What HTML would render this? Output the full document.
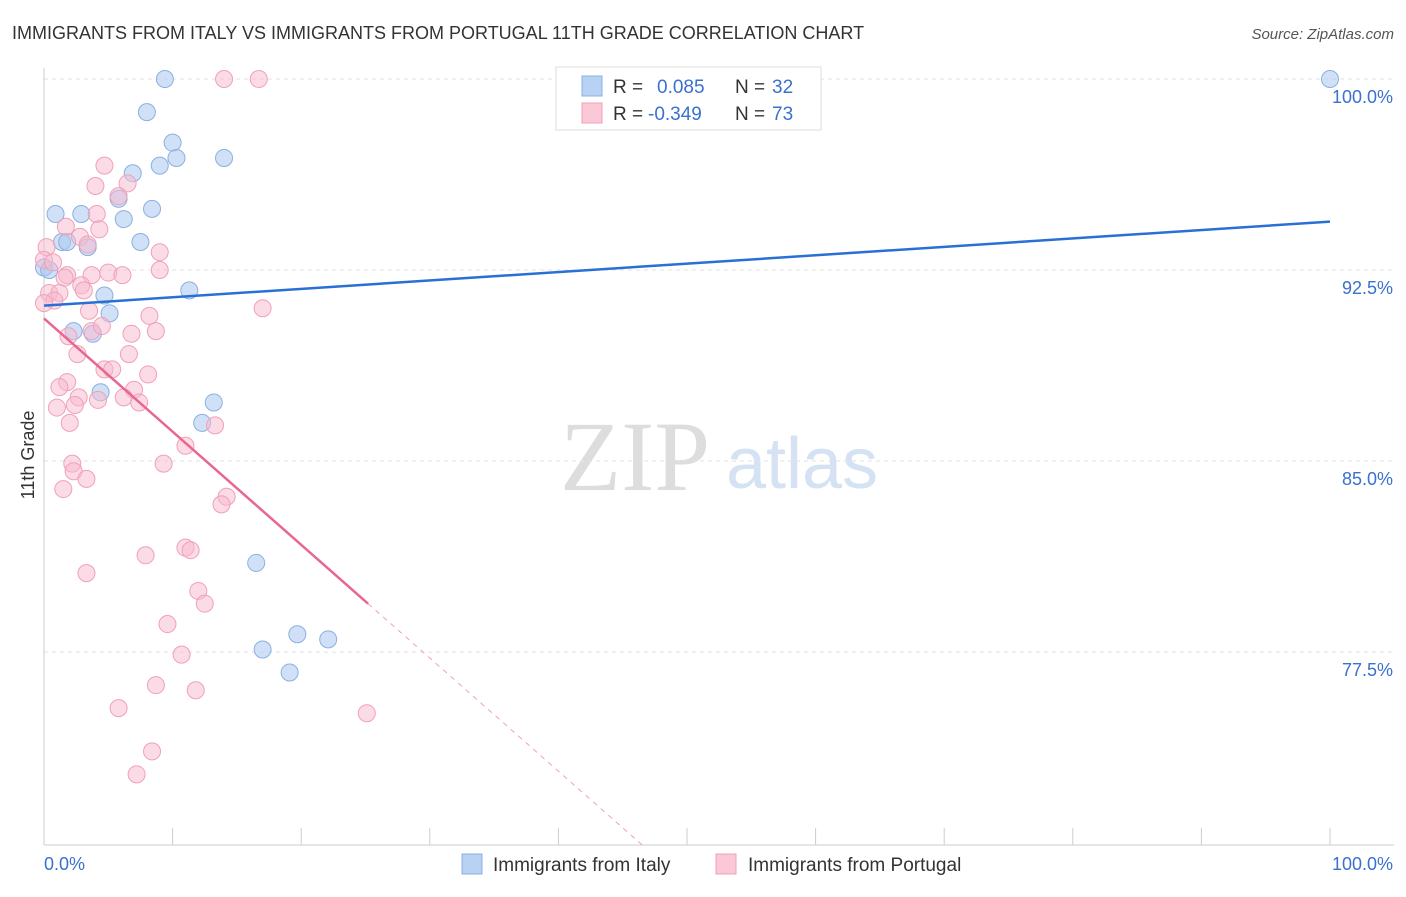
<!DOCTYPE html>
<html><head><meta charset="utf-8"><style>
body{margin:0;background:#fff;font-family:"Liberation Sans",sans-serif;}
svg text{font-family:"Liberation Sans",sans-serif;}
</style></head><body>
<svg id="chart" width="1406" height="892" xmlns="http://www.w3.org/2000/svg">
<text x="12" y="39" font-size="18" fill="#333">IMMIGRANTS FROM ITALY VS IMMIGRANTS FROM PORTUGAL 11TH GRADE CORRELATION CHART</text>
<text x="1394" y="39" font-size="15" fill="#555" font-style="italic" text-anchor="end">Source: ZipAtlas.com</text>
<g><text x="635" y="490" font-size="100" fill="#ddd" style="font-family:'Liberation Serif',serif" text-anchor="middle">ZIP</text><text x="802" y="488" font-size="72" fill="#d4e2f4" text-anchor="middle">atlas</text></g>
<g id="grid"></g><g id="axes"></g><g id="marks"></g>
<text transform="translate(34,455) rotate(-90)" font-size="18" fill="#333" text-anchor="middle">11th Grade</text>
<g>
<rect x="556" y="67" width="265" height="63" fill="#fff" stroke="#ddd"/>
<rect x="582" y="76" width="20" height="20" fill="#b8d2f4" stroke="#8ab0e0"/>
<rect x="582" y="103" width="20" height="20" fill="#fbc8d8" stroke="#f0a0b8"/>
<text x="613" y="93" font-size="19" fill="#333">R = </text><text x="657" y="93" font-size="19" fill="#3a70d0">0.085</text>
<text x="735" y="93" font-size="19" fill="#333">N = </text><text x="772" y="93" font-size="19" fill="#3a70d0">32</text>
<text x="613" y="120" font-size="19" fill="#333">R = </text><text x="648" y="120" font-size="19" fill="#3a70d0">-0.349</text>
<text x="735" y="120" font-size="19" fill="#333">N = </text><text x="772" y="120" font-size="19" fill="#3a70d0">73</text>
</g>
<g>
<rect x="462" y="854" width="20" height="20" fill="#b8d2f4" stroke="#8ab0e0"/>
<text x="493" y="871" font-size="19" fill="#333">Immigrants from Italy</text>
<rect x="716" y="854" width="20" height="20" fill="#fbc8d8" stroke="#f0a0b8"/>
<text x="748" y="871" font-size="19" fill="#333">Immigrants from Portugal</text>
</g>
</svg>
<script>
const yTicks=[100,92.5,85,77.5];
const yTickLabels=["100.0%","92.5%","85.0%","77.5%"];
const italyX=[9.4,100,8,10.0,9.0,10.3,14,6.9,5.8,8.4,6.2,0.9,2.9,1.4,1.8,3.4,7.5,0,4.7,11.3,5.1,2.3,3.8,4.4,13.2,12.3,16.5,19.7,22.1,17,19.1,0.4];
const italyY=[100,100,98.7,97.5,96.6,96.9,96.9,96.3,95.3,94.9,94.5,94.7,94.7,93.6,93.6,93.4,93.6,92.6,91.5,91.7,90.8,90.1,90.0,87.7,87.3,86.5,81.0,78.2,78.0,77.6,76.7,92.5];
const portX=[14,16.7,4.7,6.5,4.0,5.8,4.1,1.7,4.3,0.2,2.8,3.4,9,0,0.7,1.8,3.7,5,6.1,9,2.9,3.1,0.4,1.2,0.8,0,3.5,8.2,17.0,1.9,3.7,4.5,8.7,2.6,6.6,4.7,6.8,5.3,8.1,7,1.8,1.2,2.7,4.2,6.2,7.4,1,2.4,2,13.3,11.0,2.2,9.3,2.3,3.3,1.5,14.2,13.8,11.0,11.4,7.9,3.3,12,12.5,9.6,10.7,8.7,11.8,5.8,25.1,8.4,7.2,1.6];
const portY=[100,100,96.6,95.9,95.8,95.4,94.7,94.2,94.1,93.4,93.8,93.5,93.2,92.9,92.8,92.3,92.3,92.4,92.3,92.5,91.9,91.7,91.6,91.6,91.3,91.2,90.9,90.7,91,89.9,90.1,90.3,90.1,89.2,89.2,88.6,90,88.6,88.4,87.8,88.1,87.9,87.5,87.4,87.5,87.3,87.1,87.2,86.5,86.4,85.6,84.9,84.9,84.6,84.3,83.9,83.6,83.3,81.6,81.5,81.3,80.6,79.9,79.4,78.6,77.4,76.2,76,75.3,75.1,73.6,72.7,92.2];
const italyTrend=[91.1,94.4];
const portTrend=[90.6,79.4];
const portTrendEnd=25.2;
const X=v=>44+v*12.86, Y=v=>79+(100-v)*25.47;
const NS="http://www.w3.org/2000/svg";
function mk(t,a,p){const e=document.createElementNS(NS,t);for(const k in a)e.setAttribute(k,a[k]);document.getElementById(p).appendChild(e);return e;}
yTicks.forEach((t,i)=>{
 const g=mk('line',{x1:44,x2:1394,y1:Y(t),y2:Y(t),stroke:'#e2e2e2','stroke-dasharray':'4,4'},'grid');
 
 
 const tx=mk('text',{x:1393,y:Y(t)+24,'font-size':18,fill:'#3a70d0','text-anchor':'end'},'axes');
 tx.textContent=yTickLabels[i];
 
 
});
const ax=mk('line',{x1:44,x2:1394,y1:845,y2:845,stroke:'#ccc'},'axes');


const ay=mk('line',{x1:44,x2:44,y1:68,y2:845,stroke:'#ccc'},'axes');


for(let i=0;i<=10;i++){const t=mk('line',{x1:X(i*10),x2:X(i*10),y1:828,y2:845,stroke:'#ccc'},'axes');
 
 }
[['0.0%',44,'start'],['100.0%',1393,'end']].forEach(([s,x,a])=>{const t=mk('text',{x:x,y:870,'font-size':18,fill:'#3a70d0','text-anchor':a},'axes');t.textContent=s;
 
 });
italyX.forEach((v,i)=>{const c=mk('circle',{cx:X(v),cy:Y(italyY[i]),r:8.5,fill:'rgba(170,200,240,0.55)',stroke:'#8ab0e0','stroke-width':1},'marks');
 
 });
portX.forEach((v,i)=>{const c=mk('circle',{cx:X(v),cy:Y(portY[i]),r:8.5,fill:'rgba(248,185,205,0.5)',stroke:'#f0a0b8','stroke-width':1},'marks');
 
 });
const l1=mk('line',{x1:X(0),y1:Y(italyTrend[0]),x2:X(100),y2:Y(italyTrend[1]),stroke:'#2a6fd6','stroke-width':2.5},'marks');


const slope=(portTrend[1]-portTrend[0])/portTrendEnd;
const l2=mk('line',{x1:X(0),y1:Y(portTrend[0]),x2:X(portTrendEnd),y2:Y(portTrend[1]),stroke:'#e8678f','stroke-width':2.5},'marks');


const yEnd=69.9, xEnd=(yEnd-portTrend[0])/slope;
const l3=mk('line',{x1:X(portTrendEnd),y1:Y(portTrend[1]),x2:X(xEnd),y2:Y(yEnd),stroke:'#f0a0b8','stroke-width':1,'stroke-dasharray':'5,5'},'marks');


</script>
</body></html>
